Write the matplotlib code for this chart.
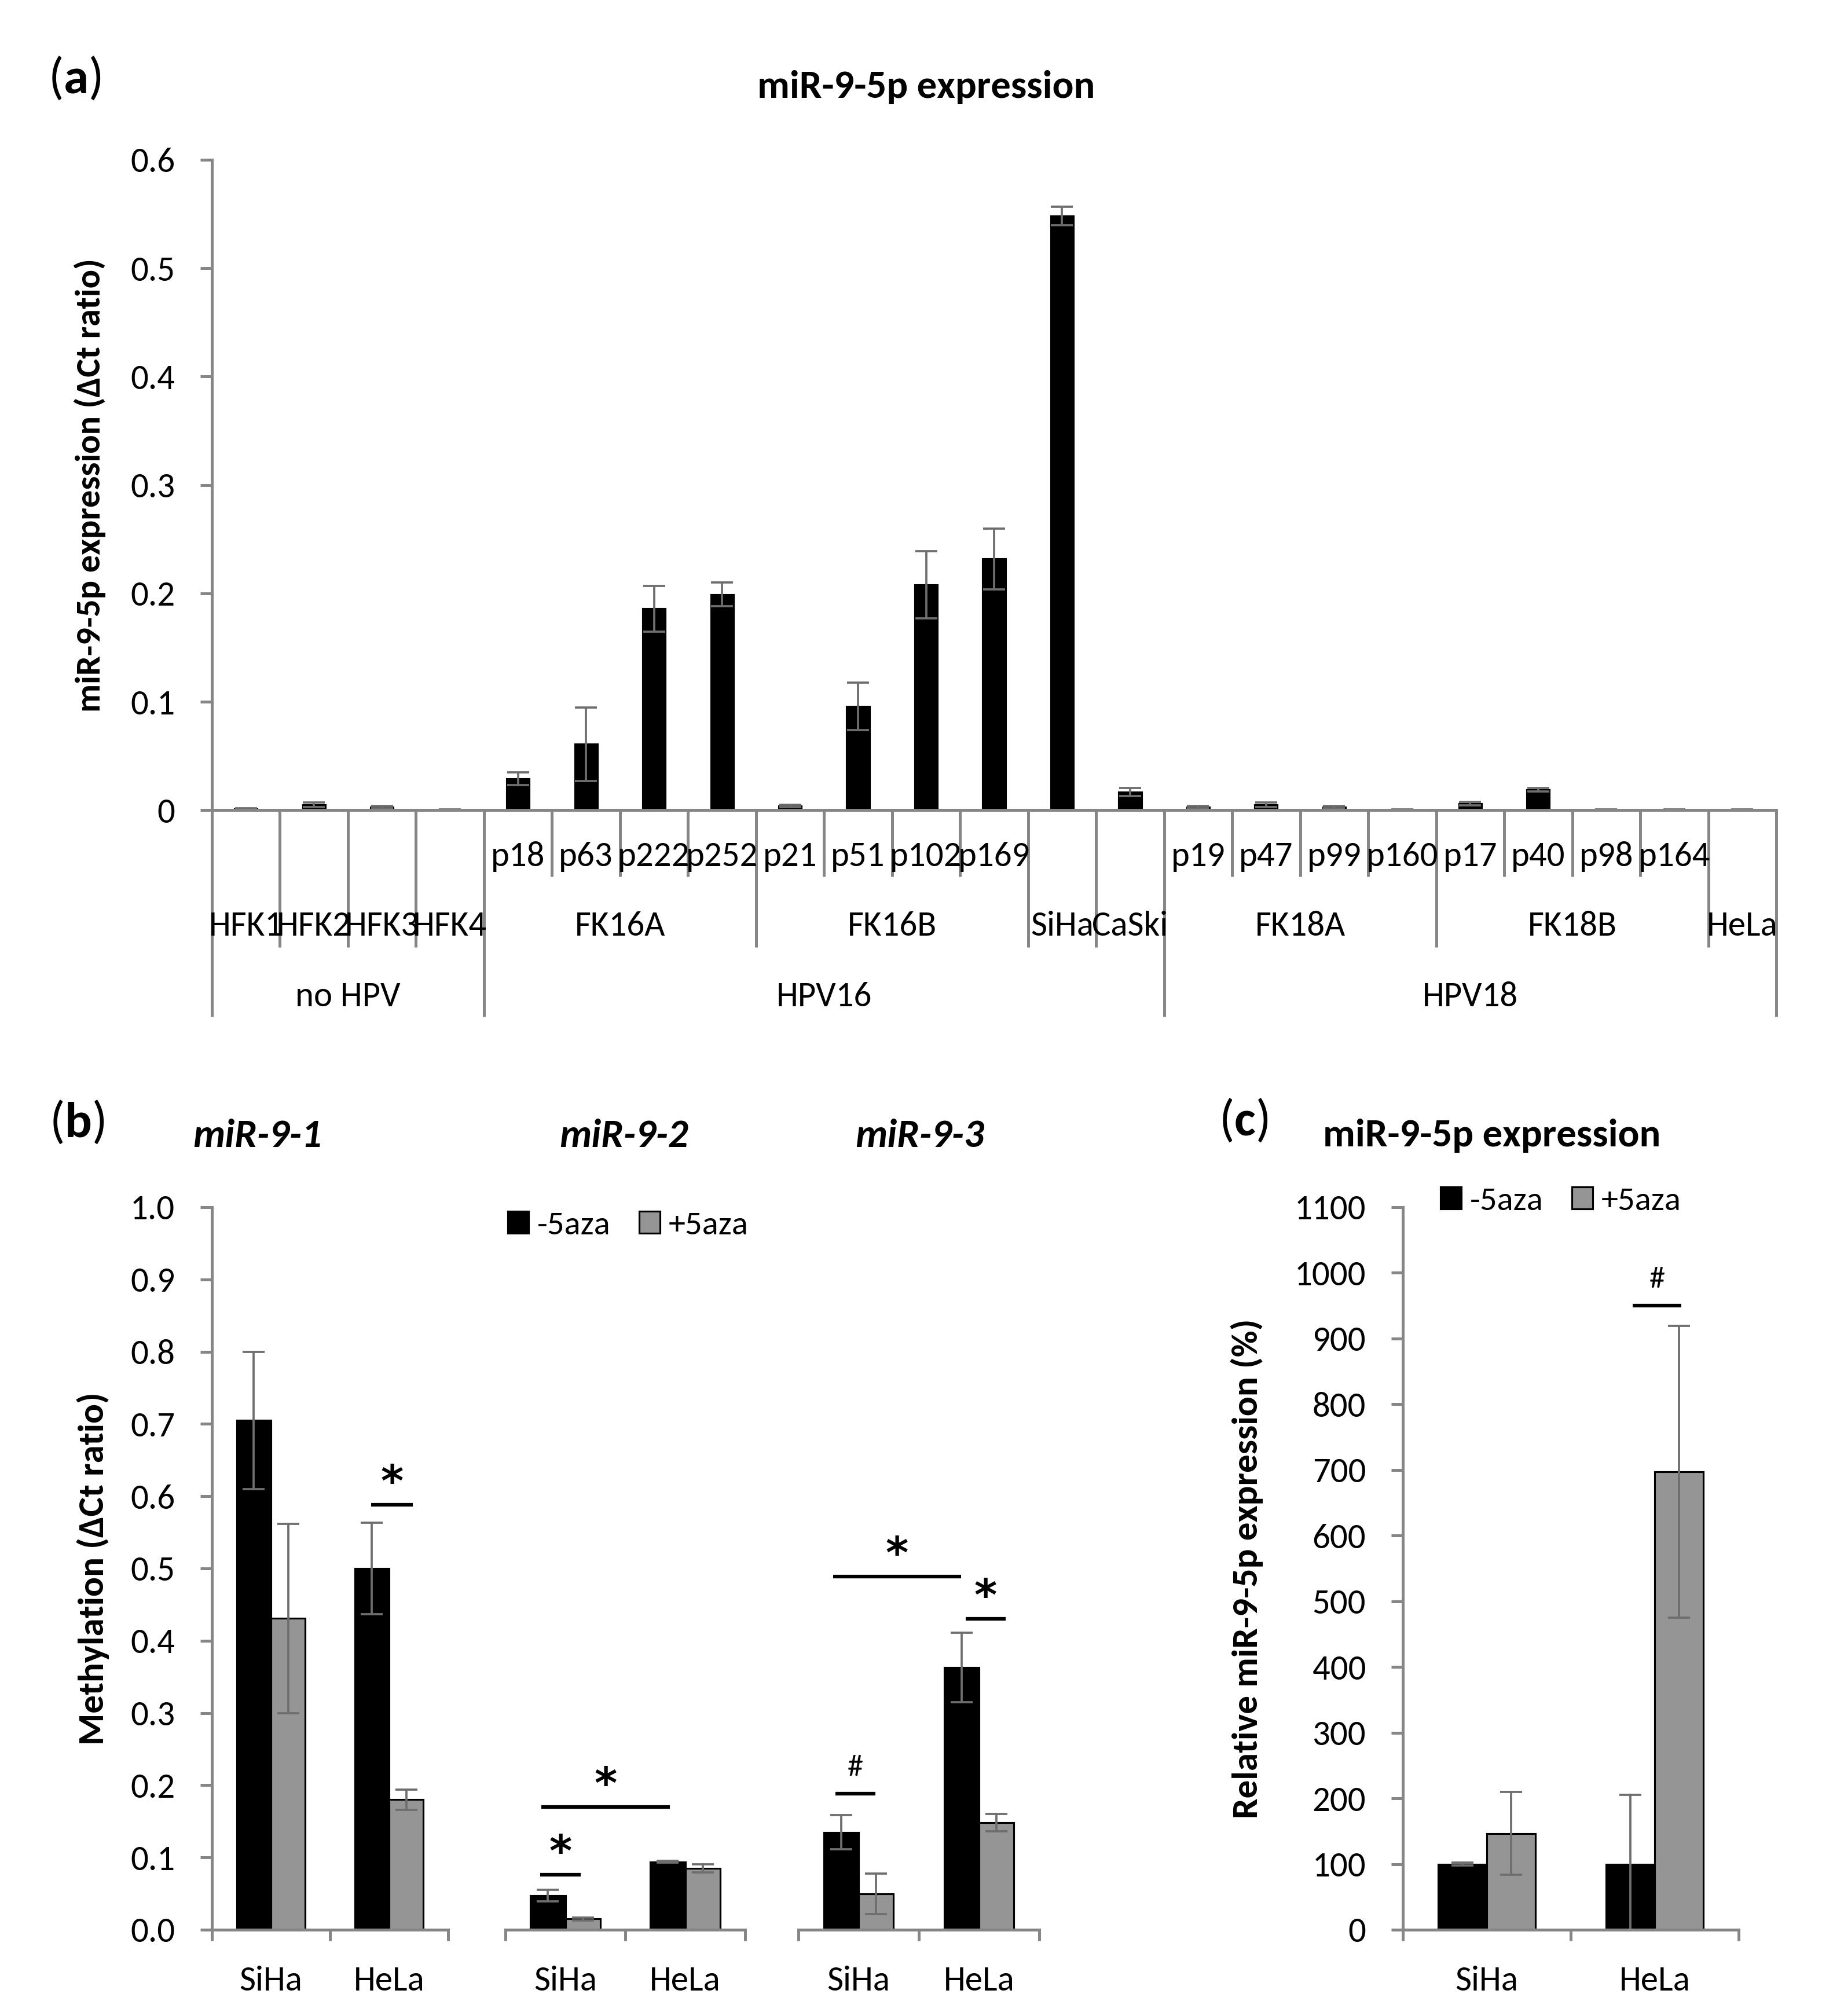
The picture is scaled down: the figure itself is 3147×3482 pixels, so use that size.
import matplotlib
matplotlib.use('Agg')
import matplotlib.pyplot as plt
from matplotlib import font_manager
from matplotlib.patches import Patch
from matplotlib.transforms import blended_transform_factory
import numpy as np

_avail = {f.name for f in font_manager.fontManager.ttflist}
_prefs = [('Carlito', 1.0), ('Liberation Sans Narrow', 1.0), ('Roboto Condensed', 1.0),
          ('Open Sans Condensed', 1.0), ('Lato', 0.93), ('Roboto', 0.9), ('Liberation Sans', 0.85)]
MAIN, SC = next((p, s) for p, s in _prefs if p in _avail)
FONT = [MAIN, 'DejaVu Sans']
plt.rcParams['font.family'] = FONT
plt.rcParams['mathtext.fontset'] = 'custom'
plt.rcParams['mathtext.rm'] = MAIN
plt.rcParams['mathtext.bf'] = MAIN + ':bold'

# ---------------- data: panel (a) ----------------
tier1_labels = ['', '', '', '',
                'p18', 'p63', 'p222', 'p252',
                'p21', 'p51', 'p102', 'p169',
                '', '',
                'p19', 'p47', 'p99', 'p160',
                'p17', 'p40', 'p98', 'p164',
                '']
tier2_labels = ['HFK1', 'HFK2', 'HFK3', 'HFK4', 'FK16A', 'FK16B', 'SiHa', 'CaSki', 'FK18A', 'FK18B', 'HeLa']
tier2_sizes = [1, 1, 1, 1, 4, 4, 1, 1, 4, 4, 1]
tier3_labels = ['no HPV', 'HPV16', 'HPV18']
tier3_sizes = [4, 10, 9]
expr_a = [0.0015, 0.005, 0.003, 0.0005,
          0.029, 0.061, 0.186, 0.199,
          0.004, 0.096, 0.208, 0.232,
          0.548, 0.017,
          0.003, 0.005, 0.003, 0.0005,
          0.006, 0.019, 0.0005, 0.0005,
          0.0005]
err_a = [0.0005, 0.002, 0.001, 0.0003,
         0.006, 0.034, 0.021, 0.011,
         0.001, 0.022, 0.031, 0.028,
         0.0085, 0.0037,
         0.001, 0.002, 0.001, 0.0002,
         0.0015, 0.0015, 0.0002, 0.0002,
         0.0002]

# ---------------- data: panel (b) ----------------
genes = ['miR-9-1', 'miR-9-2', 'miR-9-3']
cells = ['SiHa', 'HeLa']
meth_minus = [[0.705, 0.500], [0.047, 0.094], [0.135, 0.363]]
meth_minus_err = [[0.095, 0.063], [0.008, 0.001], [0.0235, 0.048]]
meth_plus = [[0.431, 0.180], [0.015, 0.085], [0.050, 0.148]]
meth_plus_err = [[0.131, 0.014], [0.002, 0.0055], [0.028, 0.012]]
# significance brackets: (gene index, x start, x end, y, symbol)
sig_b = [(0, 0.85, 1.20, 0.588, '*'),
         (1, -0.21, 0.13, 0.076, '*'),
         (1, -0.20, 0.87, 0.170, '*'),
         (2, -0.19, 0.14, 0.188, '#'),
         (2, -0.21, 0.85, 0.489, '*'),
         (2, 0.89, 1.22, 0.430, '*')]

# ---------------- data: panel (c) ----------------
rel_minus = [100, 100]
rel_minus_err = [2, 105]
rel_plus = [146.5, 697]
rel_plus_err = [63, 222]
sig_c = [(0.87, 1.16, 950, '#')]

series_labels = ['-5aza', '+5aza']

# ---------------- style ----------------
W, H = 3147, 3482
DPI = 300
AXC = '#868686'
ERRC = '#6e6e6e'
GRAY = '#959595'
TICK_FS = 14.6 * SC
LEG_FS = 14 * SC
TITLE_FS = 16.5 * SC
YLAB_FS = 15.2 * SC
YLAB_A_FS = 14.5 * SC
PANEL_FS = 21 * SC

fig = plt.figure(figsize=(W / DPI, H / DPI), dpi=DPI)


def fx(px):
    return px / W


def fy(py):
    return 1 - py / H


def style_axis(ax, left=True):
    for s in ['top', 'right']:
        ax.spines[s].set_visible(False)
    ax.spines['bottom'].set_color(AXC)
    ax.spines['bottom'].set_linewidth(1.2)
    if left:
        ax.spines['left'].set_color(AXC)
        ax.spines['left'].set_linewidth(1.2)
        ax.tick_params(axis='y', direction='out', length=4.8, width=1.2, color=AXC,
                       labelsize=TICK_FS, pad=10.5, labelcolor='black')
    else:
        ax.spines['left'].set_visible(False)
        ax.set_yticks([])


err_kw = dict(ecolor=ERRC, elinewidth=0.9, capsize=4.6, capthick=0.9)

# ================= panel (a) =================
axa = fig.add_axes([fx(366), fy(1399.5), fx(3068 - 366), (1399.5 - 276) / H])
n = len(expr_a)
x = np.arange(n)
axa.bar(x, expr_a, width=1 / 3, color='black', edgecolor='black', linewidth=0.75,
        yerr=err_a, error_kw=err_kw, zorder=2)
axa.set_xlim(-0.5, n - 0.5)
axa.set_ylim(0, 0.6)
yt = np.round(np.arange(0, 0.61, 0.1), 1)
axa.set_yticks(yt)
axa.set_yticklabels(['0' if v == 0 else f'{v:.1f}' for v in yt])
style_axis(axa)
axa.set_xticks([])
axa.set_ylabel('miR-9-5p expression (ΔCt ratio)', fontsize=YLAB_A_FS, fontweight='bold')
axa.yaxis.set_label_coords((183 - 366) / (3068 - 366), 0.5)

ah = 1399.5 - 276  # axes height px
tr = blended_transform_factory(axa.transData, axa.transAxes)
b2 = set(np.cumsum([0] + tier2_sizes))
b3 = set(np.cumsum([0] + tier3_sizes))
depth_px = {1: 115, 2: 237, 3: 357}
for i in range(n + 1):
    d = 3 if i in b3 else (2 if i in b2 else 1)
    axa.plot([i - 0.5, i - 0.5], [0, -depth_px[d] / ah], transform=tr, clip_on=False,
             color=AXC, lw=1.2, solid_capstyle='butt')
for i, lab in enumerate(tier1_labels):
    if lab:
        axa.text(i, -80 / ah, lab, transform=tr, ha='center', va='center', fontsize=TICK_FS)
start = 0
for lab, sz in zip(tier2_labels, tier2_sizes):
    axa.text(start + (sz - 1) / 2, -200 / ah, lab, transform=tr, ha='center', va='center', fontsize=TICK_FS)
    start += sz
start = 0
for lab, sz in zip(tier3_labels, tier3_sizes):
    axa.text(start + (sz - 1) / 2, -322 / ah, lab, transform=tr, ha='center', va='center', fontsize=TICK_FS)
    start += sz

fig.text(fx(129), fy(135), r'($\mathbf{a}$)', ha='center', va='center', fontsize=PANEL_FS)
fig.text(fx(1600), fy(150), 'miR-9-5p expression', ha='center', va='center',
         fontsize=TITLE_FS, fontweight='bold')

# ================= panel (b) =================
b_left = [366, 873, 1379]
b_right = [774, 1287, 1795]
b_titles_x = [444, 1077, 1588]
bw = 0.29
xc = np.arange(len(cells))
axes_b = []
for g in range(len(genes)):
    ax = fig.add_axes([fx(b_left[g]), fy(3333), fx(b_right[g] - b_left[g]), 1248 / H])
    axes_b.append(ax)
    ax.bar(xc - bw / 2, meth_minus[g], width=bw, color='black', edgecolor='black', linewidth=0.75,
           yerr=meth_minus_err[g], error_kw=err_kw, zorder=2)
    ax.bar(xc + bw / 2, meth_plus[g], width=bw, color=GRAY, edgecolor='black', linewidth=0.75,
           yerr=meth_plus_err[g], error_kw=err_kw, zorder=2)
    ax.set_xlim(-0.5, len(cells) - 0.5)
    ax.set_ylim(0, 1.0)
    style_axis(ax, left=(g == 0))
    if g == 0:
        ytb = np.round(np.arange(0, 1.01, 0.1), 1)
        ax.set_yticks(ytb)
        ax.set_yticklabels([f'{v:.1f}' for v in ytb])
        ax.set_ylabel('Methylation (ΔCt ratio)', fontsize=YLAB_FS, fontweight='bold')
        ax.yaxis.set_label_coords((189 - 366) / (774 - 366), 0.5)
    ax.set_xticks(np.arange(-0.5, len(cells)), labels=[''] * (len(cells) + 1))
    ax.set_xticks(xc, labels=cells, minor=True)
    ax.tick_params(axis='x', which='major', direction='out', length=4.6, width=1.2, color=AXC)
    ax.tick_params(axis='x', which='minor', length=0, pad=15.0, labelsize=TICK_FS)
    fig.text(fx(b_titles_x[g]), fy(1962), genes[g], ha='center', va='center',
             fontsize=TITLE_FS, fontweight='bold', style='italic')

for gi, x1, x2, yv, sym in sig_b:
    ax = axes_b[gi]
    ax.plot([x1, x2], [yv, yv], color='black', lw=1.5, solid_capstyle='butt', clip_on=False)
    if sym == '*':
        ax.annotate(sym, ((x1 + x2) / 2, yv), xytext=(0, 8.5), textcoords='offset points',
                    ha='center', va='center', fontsize=18, fontweight='bold',
                    family='DejaVu Sans')
    else:
        ax.annotate(sym, ((x1 + x2) / 2, yv), xytext=(0, 10.8), textcoords='offset points',
                    ha='center', va='center', fontsize=13 * SC)

fig.text(fx(133), fy(1938), r'($\mathbf{b}$)', ha='center', va='center', fontsize=PANEL_FS)

handles = [Patch(facecolor='black', edgecolor='black', linewidth=0.75),
           Patch(facecolor=GRAY, edgecolor='black', linewidth=0.75)]
fig.legend(handles, series_labels, loc='center left', bbox_to_anchor=(fx(877), fy(2116)),
           ncol=2, frameon=False, handlelength=0.62 / SC, handleheight=0.62 / SC,
           handletextpad=0.25 / SC, columnspacing=0.85 / SC, borderpad=0, borderaxespad=0,
           fontsize=LEG_FS)

# ================= panel (c) =================
axc = fig.add_axes([fx(2423), fy(3333), fx(3003 - 2423), 1248 / H])
axc.bar(xc - bw / 2, rel_minus, width=bw, color='black', edgecolor='black', linewidth=0.75,
        yerr=rel_minus_err, error_kw=err_kw, zorder=2)
axc.bar(xc + bw / 2, rel_plus, width=bw, color=GRAY, edgecolor='black', linewidth=0.75,
        yerr=rel_plus_err, error_kw=err_kw, zorder=2)
axc.set_xlim(-0.5, len(cells) - 0.5)
axc.set_ylim(0, 1100)
axc.set_yticks(np.arange(0, 1101, 100))
style_axis(axc)
axc.set_xticks(np.arange(-0.5, len(cells)), labels=[''] * (len(cells) + 1))
axc.set_xticks(xc, labels=cells, minor=True)
axc.tick_params(axis='x', which='major', direction='out', length=4.6, width=1.2, color=AXC)
axc.tick_params(axis='x', which='minor', length=0, pad=15.0, labelsize=TICK_FS)
axc.set_ylabel('Relative miR-9-5p expression (%)', fontsize=YLAB_FS, fontweight='bold')
axc.yaxis.set_label_coords((2182 - 2423) / (3003 - 2423), 0.5)
for x1, x2, yv, sym in sig_c:
    axc.plot([x1, x2], [yv, yv], color='black', lw=1.5, solid_capstyle='butt', clip_on=False)
    axc.annotate(sym, ((x1 + x2) / 2, yv), xytext=(0, 10.8), textcoords='offset points',
                 ha='center', va='center', fontsize=13 * SC)

fig.text(fx(2148), fy(1935), r'($\mathbf{c}$)', ha='center', va='center', fontsize=PANEL_FS)
fig.text(fx(2577), fy(1962), 'miR-9-5p expression', ha='center', va='center',
         fontsize=TITLE_FS, fontweight='bold')
fig.legend(handles, series_labels, loc='center left', bbox_to_anchor=(fx(2488), fy(2074)),
           ncol=2, frameon=False, handlelength=0.62 / SC, handleheight=0.62 / SC,
           handletextpad=0.25 / SC, columnspacing=0.85 / SC, borderpad=0, borderaxespad=0,
           fontsize=LEG_FS)

fig.savefig('out.png', dpi=DPI, facecolor='white')
